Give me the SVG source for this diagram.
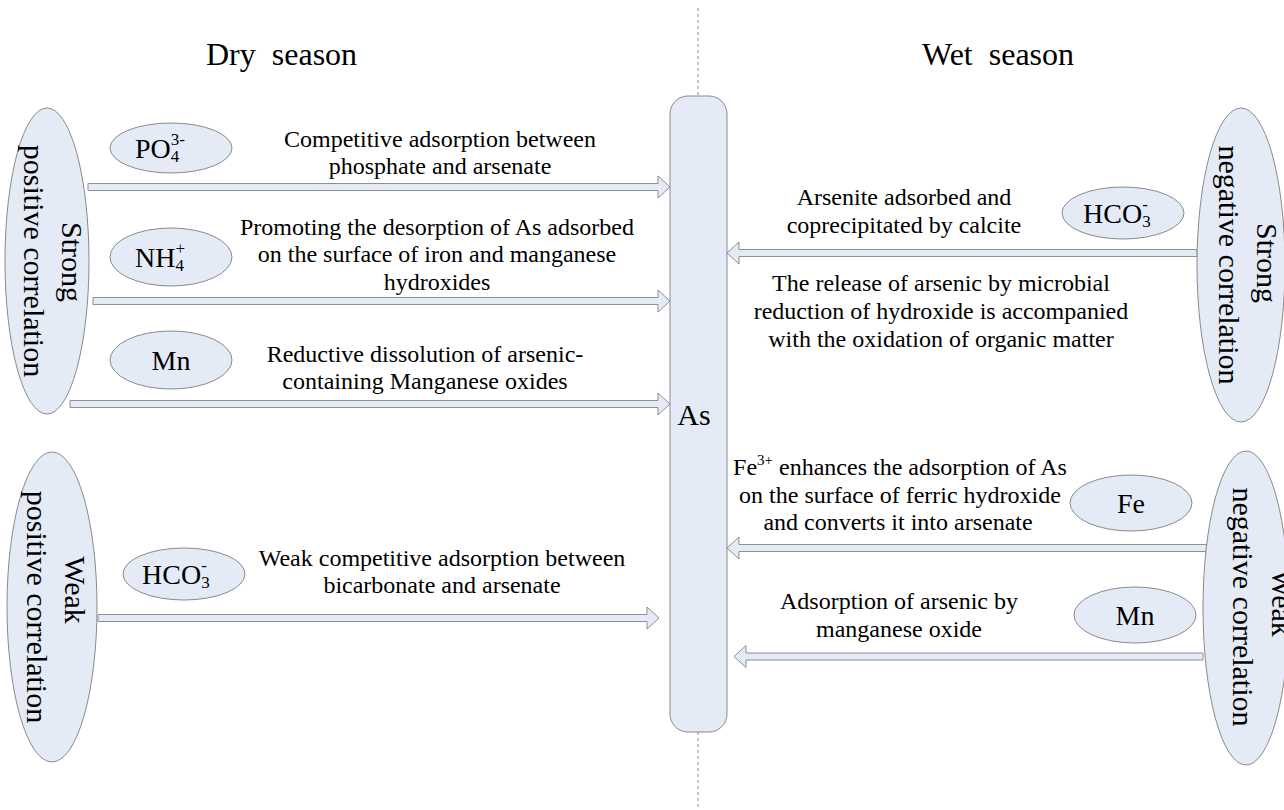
<svg xmlns="http://www.w3.org/2000/svg" width="1284" height="810" viewBox="0 0 1284 810">
<style>
text{font-family:"Liberation Serif","Times New Roman",serif;fill:#000}
.t{font-size:24px;text-anchor:middle}
.title{font-size:32px}
.big{font-size:30px;text-anchor:middle}
.lbl{font-size:28px}
.sub{font-size:17px}
.sh{fill:#e4ebf6;stroke:#8a8a8a;stroke-width:1}
.arr{fill:#e4ebf6;stroke:#8f8f8f;stroke-width:1}
.dash{stroke:#8a8a8a;stroke-width:1;stroke-dasharray:3 3;fill:none}
</style>
<rect width="1284" height="810" fill="#fff"/>
<line class="dash" x1="698" y1="8" x2="698" y2="96"/>
<line class="dash" x1="698" y1="732" x2="698" y2="810"/>
<text class="title" x="206" y="65">Dry&#160;&#160;season</text>
<text class="title" x="922" y="65">Wet&#160;&#160;season</text>

<g id="connectors">
<polygon class="arr" points="88,183.5 658,183.5 658,176 670,187 658,198 658,190.5 88,190.5"/>
<polygon class="arr" points="93,297.5 658,297.5 658,290 670,301 658,312 658,304.5 93,304.5"/>
<polygon class="arr" points="70,400.5 658,400.5 658,393 670,404 658,415 658,407.5 70,407.5"/>
<polygon class="arr" points="98,614.5 647,614.5 647,607 659,618 647,629 647,621.5 98,621.5"/>
<polygon class="arr" points="1197,249.5 739,249.5 739,242 727,253 739,264 739,256.5 1197,256.5"/>
<polygon class="arr" points="1207,544.5 739,544.5 739,537 727,548 739,559 739,551.5 1207,551.5"/>
<polygon class="arr" points="1203,653 746,653 746,645.5 734,656.5 746,667.5 746,660 1203,660"/>
</g>

<g id="as-box">
<rect class="sh" x="670" y="96" width="57" height="636" rx="18"/>
<text class="big" x="694" y="425">As</text>
</g>

<g id="strong-positive">
<ellipse class="sh" cx="47" cy="261" rx="42" ry="153"/>
<text class="big" transform="translate(62,262) rotate(90)">Strong</text>
<text class="big" transform="translate(24,261) rotate(90)">positive correlation</text>
</g>
<g id="weak-positive">
<ellipse class="sh" cx="52" cy="607" rx="45" ry="155"/>
<text class="big" transform="translate(65,590) rotate(90)">Weak</text>
<text class="big" transform="translate(27,607) rotate(90)">positive correlation</text>
</g>
<g id="strong-negative">
<ellipse class="sh" cx="1241" cy="265" rx="44" ry="157"/>
<text class="big" transform="translate(1257,263) rotate(90)">Strong</text>
<text class="big" transform="translate(1219,265) rotate(90)">negative correlation</text>
</g>
<g id="weak-negative">
<ellipse class="sh" cx="1246" cy="608" rx="43" ry="157"/>
<text class="big" transform="translate(1272,603) rotate(90)">Weak</text>
<text class="big" transform="translate(1233,607) rotate(90)">negative correlation</text>
</g>

<g id="po4">
<ellipse class="sh" cx="171" cy="148" rx="61" ry="25"/>
<text class="lbl" x="135" y="158">PO<tspan class="sub" dy="4">4</tspan><tspan class="sub" dx="-8.5" dy="-17">3-</tspan></text>
</g>
<g id="nh4">
<ellipse class="sh" cx="171" cy="257" rx="61" ry="29"/>
<text class="lbl" x="135" y="267">NH<tspan class="sub" dy="4">4</tspan><tspan class="sub" dx="-8.5" dy="-17">+</tspan></text>
</g>
<g id="mn-left">
<ellipse class="sh" cx="171" cy="360" rx="61" ry="29"/>
<text class="lbl" x="171" y="370" text-anchor="middle">Mn</text>
</g>
<g id="hco3-left">
<ellipse class="sh" cx="184" cy="574" rx="61" ry="26"/>
<text class="lbl" x="142" y="584">HCO<tspan class="sub" dy="4">3</tspan><tspan class="sub" dx="-8.5" dy="-17">-</tspan></text>
</g>
<g id="hco3-right">
<ellipse class="sh" cx="1123" cy="213" rx="61" ry="26"/>
<text class="lbl" x="1083" y="223">HCO<tspan class="sub" dy="4">3</tspan><tspan class="sub" dx="-8.5" dy="-17">-</tspan></text>
</g>
<g id="fe">
<ellipse class="sh" cx="1131" cy="503" rx="61" ry="28"/>
<text class="lbl" x="1131" y="513" text-anchor="middle">Fe</text>
</g>
<g id="mn-right">
<ellipse class="sh" cx="1135" cy="615" rx="61" ry="28"/>
<text class="lbl" x="1135" y="625" text-anchor="middle">Mn</text>
</g>

<g id="labels">
<text class="t" x="440" y="147">Competitive adsorption between</text>
<text class="t" x="440" y="174">phosphate and arsenate</text>
<text class="t" x="437" y="235">Promoting the desorption of As adsorbed</text>
<text class="t" x="437" y="262">on the surface of iron and manganese</text>
<text class="t" x="437" y="290">hydroxides</text>
<text class="t" x="425" y="362">Reductive dissolution of arsenic-</text>
<text class="t" x="425" y="389">containing Manganese oxides</text>
<text class="t" x="442" y="566">Weak competitive adsorption between</text>
<text class="t" x="442" y="593">bicarbonate and arsenate</text>
<text class="t" x="904" y="205">Arsenite adsorbed and</text>
<text class="t" x="904" y="233">coprecipitated by calcite</text>
<text class="t" x="941" y="291">The release of arsenic by microbial</text>
<text class="t" x="941" y="319">reduction of hydroxide is accompanied</text>
<text class="t" x="941" y="347">with the oxidation of organic matter</text>
<text class="t" x="900" y="475">Fe<tspan font-size="15" dy="-10">3+</tspan><tspan dy="10"> enhances the adsorption of As</tspan></text>
<text class="t" x="900" y="503">on the surface of ferric hydroxide</text>
<text class="t" x="898" y="530">and converts it into arsenate</text>
<text class="t" x="899" y="609">Adsorption of arsenic by</text>
<text class="t" x="899" y="637">manganese oxide</text>
</g>
</svg>
